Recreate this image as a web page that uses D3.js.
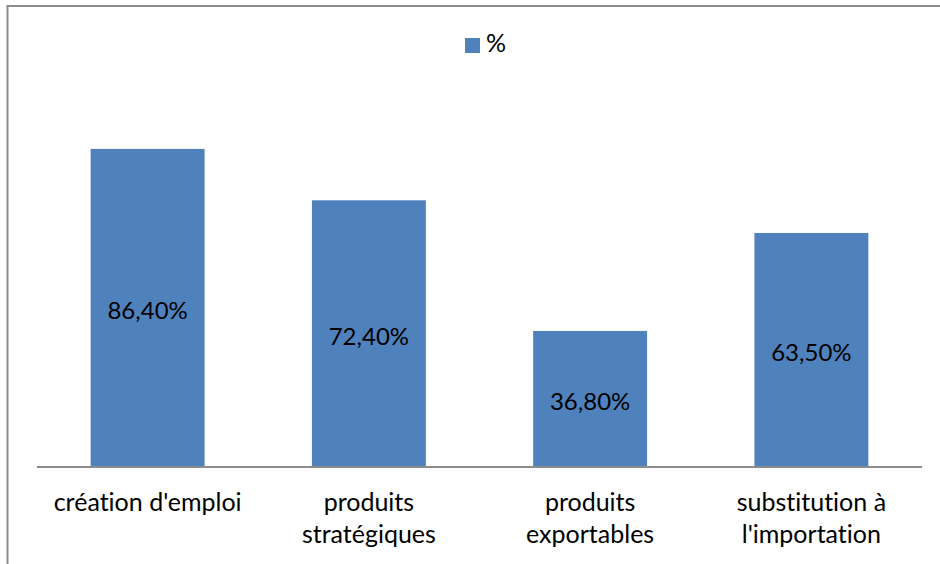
<!DOCTYPE html>
<html>
<head>
<meta charset="utf-8">
<script src="https://cdn.jsdelivr.net/npm/d3@7"></script>
<style>
  body { margin: 0; background: #fff; }
  svg text { font-family: Lato, "Open Sans", sans-serif; fill: #000; font-variant-ligatures: none; font-feature-settings: "liga" 0, "clig" 0; }
</style>
</head>
<body>
<div id="chart"></div>
<script>
(function(d3) {
  'use strict';

  var categories = ['création d\'emploi', 'produits stratégiques', 'produits exportables', 'substitution à l\'importation'];
  var categoryLines = [['création d\'emploi'], ['produits', 'stratégiques'], ['produits', 'exportables'], ['substitution à', 'l\'importation']];
  var values = [86.4, 72.4, 36.8, 63.5];
  var valueLabels = ['86,40%', '72,40%', '36,80%', '63,50%'];
  var seriesName = '%';

  var width = 940;
  var height = 564;
  var barColor = '#4f81bd';
  var fontSize = '25px';

  var svg = d3.select('#chart')
    .append('svg')
    .attr('width', width)
    .attr('height', height);

  // outer frame
  svg.append('rect')
    .attr('x', 7.5)
    .attr('y', 6)
    .attr('width', 945)
    .attr('height', 580)
    .attr('fill', 'none')
    .attr('stroke', '#8c8c8c')
    .attr('stroke-width', 2);

  var x = d3.scaleBand()
    .domain(categories)
    .range([37, 922])
    .paddingInner(0.485)
    .paddingOuter(0.2425);

  var y = d3.scaleLinear()
    .domain([0, 100])
    .range([466, 99]);

  svg.selectAll('rect.bar')
    .data(values)
    .enter()
    .append('rect')
    .attr('class', 'bar')
    .attr('x', function(d, i) { return x(categories[i]); })
    .attr('y', function(d) { return y(d); })
    .attr('width', x.bandwidth())
    .attr('height', function(d) { return y(0) - y(d); })
    .attr('fill', barColor);

  svg.selectAll('text.val')
    .data(values)
    .enter()
    .append('text')
    .attr('class', 'val')
    .attr('x', function(d, i) { return x(categories[i]) + x.bandwidth() / 2; })
    .attr('y', function(d) { return (y(d) + y(0)) / 2 + 11.5; })
    .attr('text-anchor', 'middle')
    .style('font-size', '24px')
    .text(function(d, i) { return valueLabels[i]; });

  // baseline
  svg.append('line')
    .attr('x1', 37)
    .attr('x2', 922)
    .attr('y1', y(0) + 1)
    .attr('y2', y(0) + 1)
    .attr('stroke', '#8c8c8c')
    .attr('stroke-width', 2);

  var labels = svg.selectAll('text.cat')
    .data(categories)
    .enter()
    .append('text')
    .attr('class', 'cat')
    .attr('text-anchor', 'middle')
    .style('font-size', fontSize)
    .attr('transform', function(d) {
      return 'translate(' + (x(d) + x.bandwidth() / 2) + ',511)';
    });

  labels.each(function(d, i) {
    var t = d3.select(this);
    categoryLines[i].forEach(function(line, j) {
      t.append('tspan')
        .attr('x', 0)
        .attr('y', j * 32)
        .text(line);
    });
  });

  // legend
  var legend = svg.append('g').attr('transform', 'translate(465,38)');
  legend.append('rect')
    .attr('width', 15)
    .attr('height', 15)
    .attr('fill', barColor);
  legend.append('text')
    .attr('x', 21)
    .attr('y', 14)
    .style('font-size', fontSize)
    .text(seriesName);

})(window.d3);
</script>
</body>
</html>
